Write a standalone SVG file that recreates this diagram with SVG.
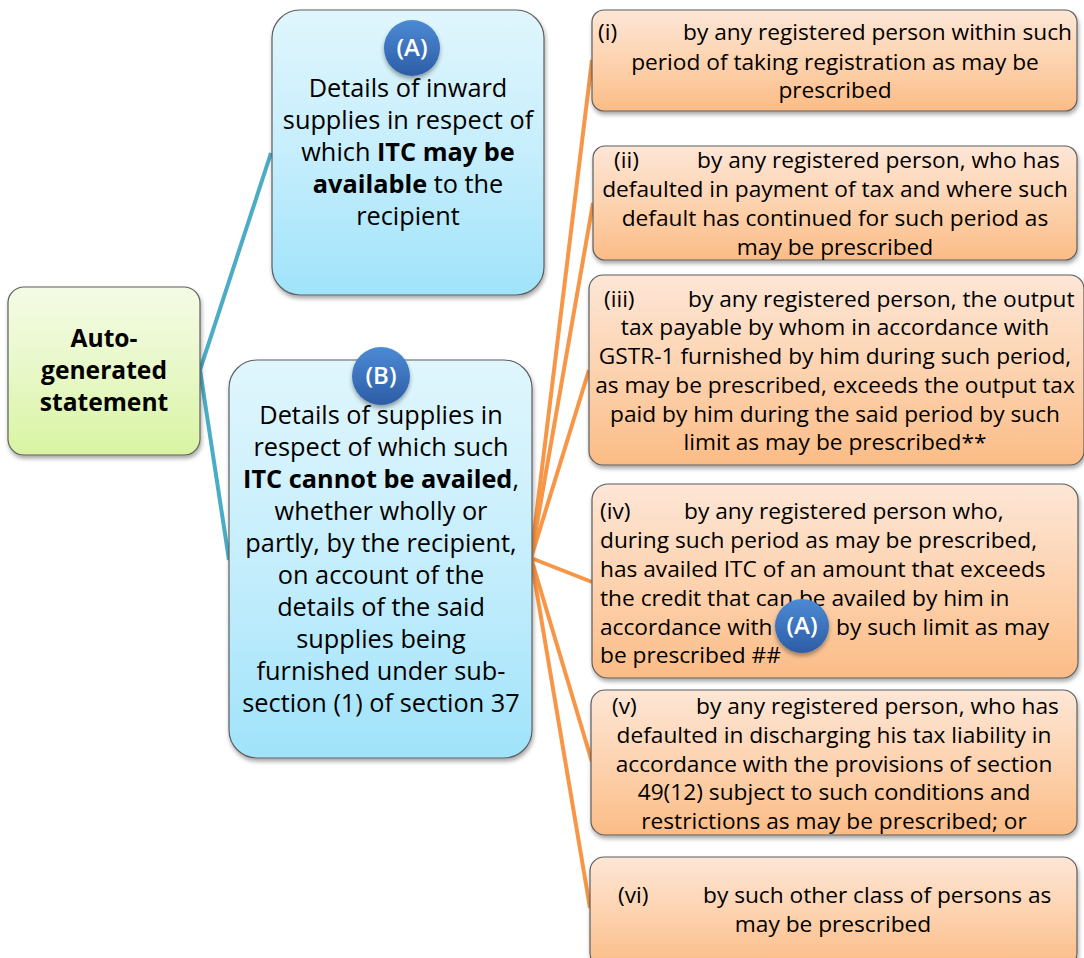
<svg xmlns="http://www.w3.org/2000/svg" width="1084" height="958" viewBox="0 0 1084 958">
<defs>
<linearGradient id="gOr" x1="0" y1="0" x2="0" y2="1"><stop offset="0" stop-color="#FDE6D6"/><stop offset="0.5" stop-color="#FDD3B0"/><stop offset="1" stop-color="#FBBC86"/></linearGradient>
<linearGradient id="gBl" x1="0" y1="0" x2="0" y2="1"><stop offset="0" stop-color="#E0F6FD"/><stop offset="0.5" stop-color="#C6EEFC"/><stop offset="1" stop-color="#A0E3FA"/></linearGradient>
<linearGradient id="gGr" x1="0" y1="0" x2="0" y2="1"><stop offset="0" stop-color="#F4FBE6"/><stop offset="0.5" stop-color="#E8F8C8"/><stop offset="1" stop-color="#D8F4A2"/></linearGradient>
<linearGradient id="gCi" x1="0" y1="0" x2="0" y2="1"><stop offset="0" stop-color="#4D8AD4"/><stop offset="1" stop-color="#2C5DA6"/></linearGradient>
<filter id="sh" x="-10%" y="-10%" width="120%" height="130%"><feDropShadow dx="1" dy="3" stdDeviation="2" flood-color="#000" flood-opacity="0.35"/></filter>
<filter id="shc" x="-30%" y="-30%" width="160%" height="160%"><feDropShadow dx="0" dy="3" stdDeviation="2" flood-color="#000" flood-opacity="0.35"/></filter>
</defs>
<style>
.box{stroke:#5E5E5E;stroke-width:1.2}
.t{font-family:"Open Sans","Noto Sans",sans-serif;fill:#000}
.o{font-size:22.7px}
.b{font-size:25.3px}
.g{font-size:24.6px}
.bold{font-weight:bold}
.ct{text-anchor:middle}
.ci{font-family:"Open Sans","Noto Sans",sans-serif;font-size:24px;font-weight:600;fill:#fff;text-anchor:middle}
.cb{stroke:#4BACC6;stroke-width:4;fill:none}
.co{stroke:#F79646;stroke-width:4;fill:none}
</style>

<g id="connectors">
<polyline class="cb" points="271,153 200,370 229,560"/>
<line class="co" x1="531" y1="558" x2="592" y2="60"/>
<line class="co" x1="531" y1="558" x2="593" y2="203"/>
<line class="co" x1="531" y1="558" x2="589" y2="370"/>
<line class="co" x1="531" y1="558" x2="592" y2="582"/>
<line class="co" x1="531" y1="558" x2="592" y2="762"/>
<line class="co" x1="531" y1="558" x2="590" y2="908"/>
</g>

<g id="root">
<rect class="box" x="8" y="287" width="192" height="168" rx="16" fill="url(#gGr)" filter="url(#sh)"/>
<text class="t g bold ct" x="104" y="347">Auto-</text>
<text class="t g bold ct" x="104" y="379">generated</text>
<text class="t g bold ct" x="104" y="411">statement</text>
</g>

<g id="nodeA">
<rect class="box" x="272" y="10" width="272" height="285" rx="28" fill="url(#gBl)" filter="url(#sh)"/>
<text class="t b ct" x="408" y="97">Details of inward</text>
<text class="t b ct" x="408" y="129">supplies in respect of</text>
<text class="t b ct" x="408" y="161">which <tspan class="bold">ITC may be</tspan></text>
<text class="t b ct" x="408" y="193"><tspan class="bold">available</tspan> to the</text>
<text class="t b ct" x="408" y="225">recipient</text>
<circle cx="412" cy="48" r="28" fill="url(#gCi)" filter="url(#shc)"/>
<text class="ci" x="412" y="56">(A)</text>
</g>

<g id="nodeB">
<rect class="box" x="229" y="360" width="303" height="398" rx="28" fill="url(#gBl)" filter="url(#sh)"/>
<text class="t b ct" x="381" y="424">Details of supplies in</text>
<text class="t b ct" x="381" y="456">respect of which such</text>
<text class="t b ct" x="381" y="488"><tspan class="bold">ITC cannot be availed</tspan>,</text>
<text class="t b ct" x="381" y="520">whether wholly or</text>
<text class="t b ct" x="381" y="552">partly, by the recipient,</text>
<text class="t b ct" x="381" y="584">on account of the</text>
<text class="t b ct" x="381" y="616">details of the said</text>
<text class="t b ct" x="381" y="648">supplies being</text>
<text class="t b ct" x="381" y="680">furnished under sub-</text>
<text class="t b ct" x="381" y="712">section (1) of section 37</text>
<circle cx="381" cy="376" r="29" fill="url(#gCi)" filter="url(#shc)"/>
<text class="ci" x="381" y="384">(B)</text>
</g>

<g id="item1">
<rect class="box" x="592" y="10" width="485" height="101" rx="12" fill="url(#gOr)" filter="url(#sh)"/>
<text class="t o" x="598" y="40">(i)</text>
<text class="t o" x="683" y="40">by any registered person within such</text>
<text class="t o ct" x="835" y="70">period of taking registration as may be</text>
<text class="t o ct" x="835" y="98">prescribed</text>
</g>

<g id="item2">
<rect class="box" x="593" y="146" width="484" height="114" rx="12" fill="url(#gOr)" filter="url(#sh)"/>
<text class="t o" x="614" y="168">(ii)</text>
<text class="t o" x="697" y="168">by any registered person, who has</text>
<text class="t o ct" x="835" y="197">defaulted in payment of tax and where such</text>
<text class="t o ct" x="835" y="226">default has continued for such period as</text>
<text class="t o ct" x="835" y="255">may be prescribed</text>
</g>

<g id="item3">
<rect class="box" x="589" y="275" width="495" height="190" rx="14" fill="url(#gOr)" filter="url(#sh)"/>
<text class="t o" x="604" y="307">(iii)</text>
<text class="t o" x="688" y="307">by any registered person, the output</text>
<text class="t o ct" x="835" y="335">tax payable by whom in accordance with</text>
<text class="t o ct" x="835" y="364">GSTR-1 furnished by him during such period,</text>
<text class="t o ct" x="835" y="393">as may be prescribed, exceeds the output tax</text>
<text class="t o ct" x="835" y="422">paid by him during the said period by such</text>
<text class="t o ct" x="835" y="450">limit as may be prescribed**</text>
</g>

<g id="item4">
<rect class="box" x="592" y="484" width="486" height="194" rx="16" fill="url(#gOr)" filter="url(#sh)"/>
<text class="t o" x="600" y="519">(iv)</text>
<text class="t o" x="684" y="519">by any registered person who,</text>
<text class="t o" x="600" y="548">during such period as may be prescribed,</text>
<text class="t o" x="600" y="577">has availed ITC of an amount that exceeds</text>
<text class="t o" x="600" y="606">the credit that can be availed by him in</text>
<text class="t o" x="600" y="635">accordance with <tspan x="836">by such limit as may</tspan></text>
<text class="t o" x="600" y="663">be prescribed ##</text>
<circle cx="802" cy="626" r="27" fill="url(#gCi)" filter="url(#shc)"/>
<text class="ci" x="802" y="634">(A)</text>
</g>

<g id="item5">
<rect class="box" x="591" y="690" width="486" height="145" rx="14" fill="url(#gOr)" filter="url(#sh)"/>
<text class="t o" x="612" y="714">(v)</text>
<text class="t o" x="696" y="714">by any registered person, who has</text>
<text class="t o ct" x="834" y="743">defaulted in discharging his tax liability in</text>
<text class="t o ct" x="834" y="772">accordance with the provisions of section</text>
<text class="t o ct" x="834" y="800">49(12) subject to such conditions and</text>
<text class="t o ct" x="834" y="829">restrictions as may be prescribed; or</text>
</g>

<g id="item6">
<rect class="box" x="590" y="857" width="487" height="110" rx="14" fill="url(#gOr)" filter="url(#sh)"/>
<text class="t o" x="618" y="903">(vi)</text>
<text class="t o" x="703" y="903">by such other class of persons as</text>
<text class="t o ct" x="833" y="932">may be prescribed</text>
</g>
</svg>
